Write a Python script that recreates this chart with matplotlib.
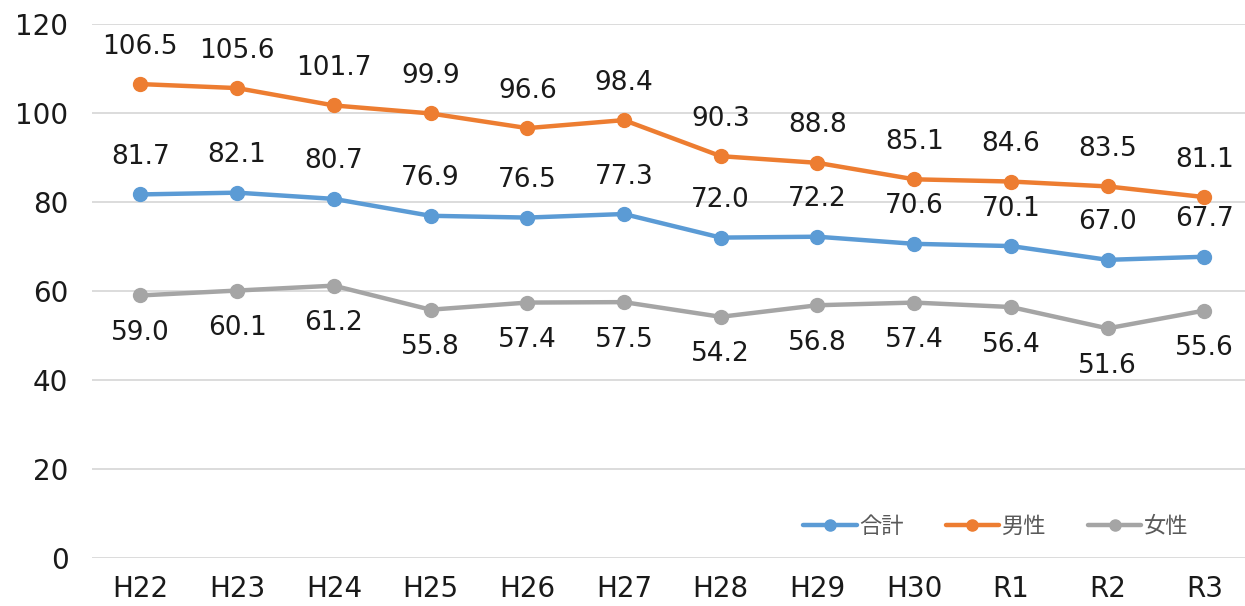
import matplotlib
matplotlib.use('Agg')
import matplotlib.pyplot as plt

years = ['H22', 'H23', 'H24', 'H25', 'H26', 'H27', 'H28', 'H29', 'H30', 'R1', 'R2', 'R3']
total = [81.7, 82.1, 80.7, 76.9, 76.5, 77.3, 72.0, 72.2, 70.6, 70.1, 67.0, 67.7]
male = [106.5, 105.6, 101.7, 99.9, 96.6, 98.4, 90.3, 88.8, 85.1, 84.6, 83.5, 81.1]
female = [59.0, 60.1, 61.2, 55.8, 57.4, 57.5, 54.2, 56.8, 57.4, 56.4, 51.6, 55.6]

plt.rcParams['font.family'] = ['DejaVu Sans', 'Noto Sans CJK JP']

fig = plt.figure(figsize=(12.45, 6.06), dpi=100)
ax = fig.add_axes([92 / 1245, 1 - 558 / 606, 1 - 92 / 1245, (558 - 24) / 606])

x = list(range(len(years)))
series = [
    ('合計', total, '#5B9BD5', 1),
    ('男性', male, '#ED7D31', 1),
    ('女性', female, '#A5A5A5', -1),
]
for name, vals, col, side in series:
    ax.plot(x, vals, color=col, lw=3.2, marker='o', ms=10, label=name,
            solid_capstyle='round')
    for xi, v in zip(x, vals):
        ax.annotate(f'{v:.1f}', (xi, v), xytext=(0, 27 * side),
                    textcoords='offset points', ha='center', va='center',
                    fontsize=19, color='#1a1a1a')

ax.set_ylim(0, 120)
ax.set_yticks(range(0, 121, 20))
ax.set_xlim(-0.5, 11.42)
ax.set_xticks(x)
ax.set_xticklabels(years)
ax.tick_params(axis='both', length=0, labelsize=20, colors='#1a1a1a')
ax.tick_params(axis='x', pad=12)
ax.tick_params(axis='y', pad=17)
ax.grid(axis='y', color='#d9d9d9', lw=1.3)
ax.set_axisbelow(True)
for s in ax.spines.values():
    s.set_visible(False)

leg = ax.legend(loc='lower right', bbox_to_anchor=(0.968, 0.0), ncol=3,
                frameon=False, fontsize=16, handlelength=2.4,
                columnspacing=1.9, handletextpad=0.1, markerscale=0.8)
for t in leg.get_texts():
    t.set_color('#595959')
    t.set_family(['Noto Sans CJK JP', 'DejaVu Sans'])

fig.savefig('out.png', dpi=100)
